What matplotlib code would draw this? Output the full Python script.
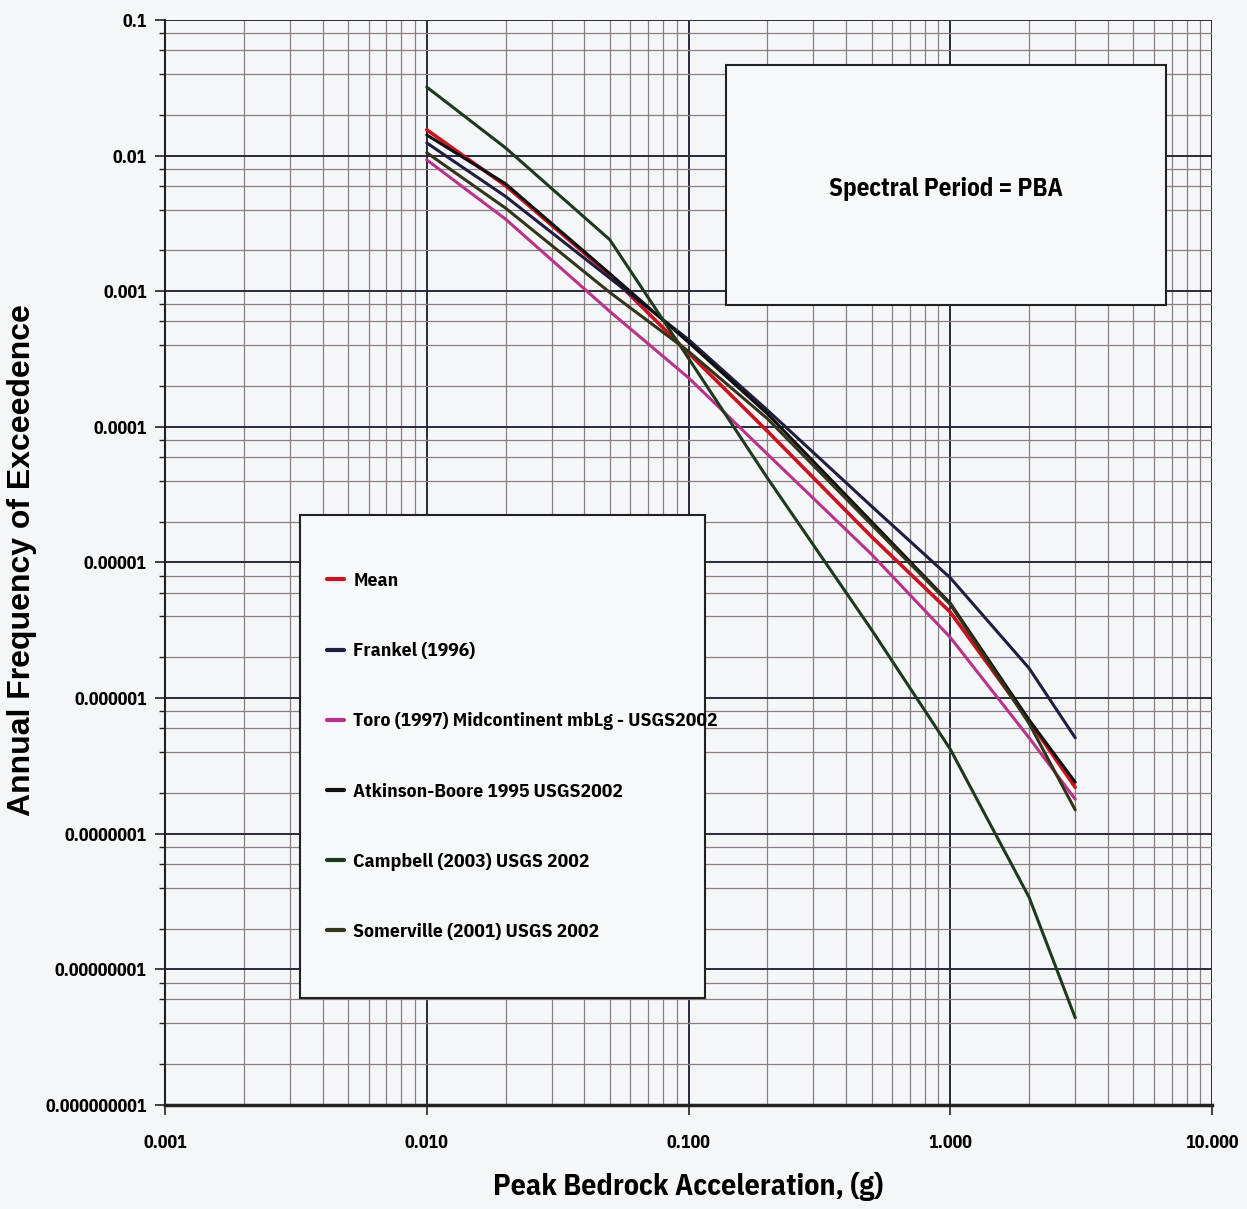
import matplotlib
matplotlib.use("Agg")
import matplotlib.pyplot as plt
from matplotlib.patches import Rectangle
from matplotlib.ticker import LogLocator, FixedLocator, NullFormatter
from matplotlib.font_manager import FontProperties

# ---------------- data ----------------
pga = [0.01, 0.02, 0.05, 0.1, 0.2, 0.5, 1.0, 2.0, 3.0]
mean_vals = [0.0155, 0.0060, 0.00132, 3.5e-4, 9.3e-5, 1.55e-5, 4.3e-6, 6.8e-7, 2.2e-7]
frankel_vals = [0.0124, 0.0050, 0.00125, 4.4e-4, 1.33e-4, 2.6e-5, 7.7e-6, 1.66e-6, 5.1e-7]
toro_vals = [0.0093, 0.0034, 7.1e-4, 2.3e-4, 6.3e-5, 1.15e-5, 2.8e-6, 5.1e-7, 1.8e-7]
ab_vals = [0.0142, 0.0062, 0.00135, 4.2e-4, 1.25e-4, 2.0e-5, 5.0e-6, 6.9e-7, 2.4e-7]
campbell_vals = [0.032, 0.0114, 0.0024, 3.2e-4, 4.2e-5, 3.2e-6, 4.2e-7, 3.4e-8, 4.4e-9]
somerville_vals = [0.0105, 0.0041, 9.8e-4, 3.6e-4, 1.15e-4, 1.9e-5, 4.9e-6, 6.5e-7, 1.5e-7]

series_names = ["Mean", "Frankel (1996)", "Toro (1997) Midcontinent mbLg - USGS2002",
                "Atkinson-Boore 1995 USGS2002", "Campbell (2003) USGS 2002",
                "Somerville (2001) USGS 2002"]
series_vals = [mean_vals, frankel_vals, toro_vals, ab_vals, campbell_vals, somerville_vals]
series_colors = ["#c8141e", "#1e1e40", "#b8338a", "#101010", "#1e3a1e", "#34341a"]

x_ticks = [0.001, 0.01, 0.1, 1.0, 10.0]
x_labels = ["0.001", "0.010", "0.100", "1.000", "10.000"]
y_ticks = [1e-9, 1e-8, 1e-7, 1e-6, 1e-5, 1e-4, 1e-3, 1e-2, 1e-1]
y_labels = ["0.000000001", "0.00000001", "0.0000001", "0.000001", "0.00001",
            "0.0001", "0.001", "0.01", "0.1"]

NARROW = ["IBM Plex Sans Condensed", "DejaVu Sans"]


def fp(size):
    return FontProperties(family=NARROW, weight="bold", stretch="condensed", size=size)


fig = plt.figure(figsize=(12.47, 12.09), dpi=100)
fig.patch.set_facecolor("#f5f6f8")
ax = fig.add_axes([0.1323, 0.086, 0.8397, 0.8975])
ax.set_facecolor("#f5f6f8")
ax.set_xscale("log")
ax.set_yscale("log")
ax.set_xlim(0.001, 10)
ax.set_ylim(1e-9, 0.1)

# grid
ax.xaxis.set_minor_locator(LogLocator(base=10, subs=[2, 3, 4, 5, 6, 7, 8, 9]))
ax.yaxis.set_minor_locator(LogLocator(base=10, subs=[2, 4, 6, 8]))
ax.xaxis.set_minor_formatter(NullFormatter())
ax.yaxis.set_minor_formatter(NullFormatter())
ax.grid(which="major", color="#2a2a3a", linewidth=1.4, zorder=1)
ax.grid(which="minor", color="#8a7e80", linewidth=0.9, zorder=1)
ax.set_axisbelow(True)

ax.xaxis.set_major_locator(FixedLocator(x_ticks))
ax.yaxis.set_major_locator(FixedLocator(y_ticks))
ax.set_xticklabels(x_labels, fontproperties=fp(13))
ax.set_yticklabels(y_labels, fontproperties=fp(13))
ax.tick_params(axis="both", which="major", length=7, width=1.2, color="#222222")
ax.tick_params(axis="x", which="major", pad=14)
ax.tick_params(axis="y", which="major", pad=6)
ax.tick_params(axis="y", which="minor", length=4, width=1.0, color="#222222")
ax.tick_params(axis="x", which="minor", length=0)

for s in ["top", "right"]:
    ax.spines[s].set_visible(False)
ax.spines["left"].set_linewidth(1.5)
ax.spines["bottom"].set_linewidth(2.5)
ax.spines["left"].set_color("#222222")
ax.spines["bottom"].set_color("#222222")

# curves
handles = []
for name, vals, col in zip(series_names, series_vals, series_colors):
    lw = 2.6 if name == "Mean" else 2.2
    h, = ax.plot(pga, vals, color=col, linewidth=lw, zorder=5, label=name,
                 solid_capstyle="round", solid_joinstyle="round")
    handles.append(h)

# legend box
ax.add_patch(Rectangle((0.129, 0.0986), 0.387, 0.4455, transform=ax.transAxes,
                       facecolor="#f7f8fa", edgecolor="#222222", linewidth=1.5, zorder=8))
leg = ax.legend(handles=handles, loc="upper left", bbox_to_anchor=(0.1547, 0.491),
                frameon=False, prop=fp(14),
                handlelength=0.9, handletextpad=0.45, labelspacing=2.68,
                borderaxespad=0, borderpad=0)
leg.set_zorder(9)
for lh in leg.get_lines():
    lh.set_linewidth(3.0)

# spectral period box
ax.add_patch(Rectangle((0.5358, 0.737), 0.4202, 0.2212, transform=ax.transAxes,
                       facecolor="#f7f8fa", edgecolor="#222222", linewidth=1.5, zorder=8))
ax.text(0.7459, 0.844, "Spectral Period = PBA", transform=ax.transAxes,
        ha="center", va="center", fontproperties=fp(18), zorder=9)

ax.set_xlabel("Peak Bedrock Acceleration, (g)", fontproperties=fp(21.5), labelpad=14)
fig.text(0.018, 0.537, "Annual Frequency of Exceedence", rotation=90,
         ha="center", va="center", fontsize=23, fontweight="bold",
         family=["Liberation Sans", "DejaVu Sans"])

fig.savefig("out.png", dpi=100, facecolor=fig.get_facecolor())
